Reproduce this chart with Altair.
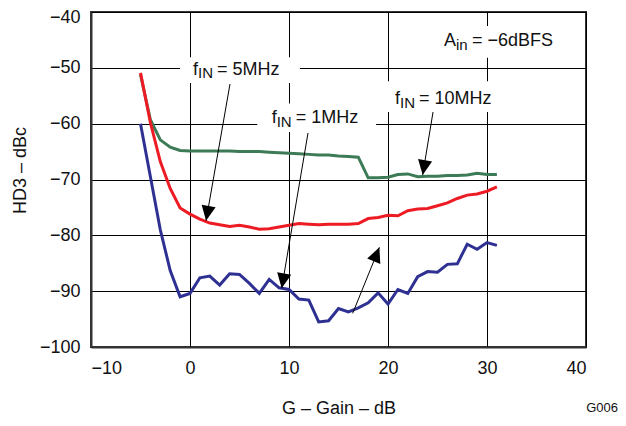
import math
import altair as alt
import pandas as pd

# ---------------- data ----------------
gain = list(range(-5, 32))

hd3_1mhz = [-60.0, -69.5, -79.0, -86.3, -91.0, -90.4, -87.6, -87.3, -88.9, -86.9,
            -87.0, -88.6, -90.4, -87.9, -89.4, -89.7, -91.4, -91.6, -95.5, -95.3,
            -93.1, -93.7, -93.0, -92.1, -90.3, -92.3, -89.7, -90.4, -87.4, -86.5,
            -86.6, -85.2, -85.1, -81.6, -82.5, -81.3, -81.8]

hd3_5mhz = [-50.9, -59.8, -66.8, -71.6, -75.1, -76.2, -77.1, -77.8, -78.1, -78.4,
            -78.2, -78.5, -78.9, -78.8, -78.5, -78.2, -77.9, -78.0, -78.1, -78.0,
            -78.0, -78.0, -77.9, -77.0, -76.8, -76.4, -76.5, -75.6, -75.3, -75.2,
            -74.7, -74.2, -73.4, -72.8, -72.6, -72.1, -71.3]

hd3_10mhz = [-51.2, -59.3, -62.9, -64.2, -64.8, -64.9, -64.9, -64.9, -64.9, -64.9,
             -65.0, -65.0, -65.0, -65.1, -65.2, -65.3, -65.4, -65.5, -65.6, -65.6,
             -65.8, -65.9, -66.0, -69.7, -69.7, -69.6, -69.1, -69.0, -69.5, -69.4,
             -69.4, -69.3, -69.3, -69.2, -68.9, -69.1, -69.1]

series_names = ["10MHz", "5MHz", "1MHz"]
series_colors = ["#3d7a56", "#ed1c24", "#2e3192"]

# annotation labels  (f_IN = ...)
lab_x = [0.30, 8.25, 20.71]
lab_y = [-51.28, -59.97, -56.48]
lab_rest = ["= 5MHz", "= 1MHz", "= 10MHz"]
amp_x = [25.66]
amp_y = [-46.09]

# white boxes behind labels
box_x1 = [-1.0, 6.8, 19.2, 24.9]
box_x2 = [11.1, 18.8, 31.9, 37.9]
box_y1 = [-48.1, -56.4, -52.4, -42.5]
box_y2 = [-52.7, -61.5, -57.9, -48.2]

# arrows: start -> tip
arr_x1 = [4.04, 11.92, 24.55, 16.43]
arr_y1 = [-52.9, -61.67, -57.91, -93.97]
arr_x2 = [1.62, 9.26, 23.5, 19.13]
arr_y2 = [-77.4, -89.49, -69.2, -82.15]

W, H = 495, 335
XDOM = [-10, 40]
YDOM = [-100, -40]
FONT = "Liberation Sans"

# ---------------- frames ----------------
rows = []
for name, vals in zip(series_names, [hd3_10mhz, hd3_5mhz, hd3_1mhz]):
    for g, v in zip(gain, vals):
        rows.append({"gain": g, "hd3": v, "series": name})
df = pd.DataFrame(rows)

sx = W / (XDOM[1] - XDOM[0])
sy = H / (YDOM[1] - YDOM[0])
angles = []
for a, b, c, d in zip(arr_x1, arr_y1, arr_x2, arr_y2):
    dxp = (c - a) * sx
    dyp = -(d - b) * sy
    angles.append(math.degrees(math.atan2(dxp, -dyp)) % 360)
arr_df = pd.DataFrame({"x1": arr_x1, "y1": arr_y1, "x2": arr_x2, "y2": arr_y2, "angle": angles})
box_df = pd.DataFrame({"x1": box_x1, "x2": box_x2, "y1": box_y1, "y2": box_y2})
lab_df = pd.DataFrame({"x": lab_x, "y": lab_y, "rest": lab_rest})
amp_df = pd.DataFrame({"x": amp_x, "y": amp_y})

xs = alt.Scale(domain=XDOM, nice=False, zero=False)
ys = alt.Scale(domain=YDOM, nice=False, zero=False)

base = alt.Chart(df)

lines = base.mark_line(strokeWidth=3, clip=True).encode(
    x=alt.X("gain:Q", scale=xs,
            axis=alt.Axis(values=[-10, 0, 10, 20, 30, 40], title="G – Gain – dB",
                          titleBaseline="alphabetic", titleY=66)),
    y=alt.Y("hd3:Q", scale=ys,
            axis=alt.Axis(values=[-100, -90, -80, -70, -60, -50, -40], title="HD3 – dBc",
                          titleBaseline="alphabetic", titleX=-66, titleY=158, titleAngle=270,
                          labelOffset=alt.condition("datum.value == -40", alt.value(5), alt.value(0)))),
    color=alt.Color("series:N", scale=alt.Scale(domain=series_names, range=series_colors), legend=None),
    order=alt.Order("gain:Q"),
)

boxes = alt.Chart(box_df).mark_rect(fill="white", stroke=None).encode(
    x=alt.X("x1:Q", scale=xs), x2="x2:Q", y=alt.Y("y1:Q", scale=ys), y2="y2:Q")

arrows = alt.Chart(arr_df).mark_rule(color="black", strokeWidth=1).encode(
    x=alt.X("x1:Q", scale=xs), y=alt.Y("y1:Q", scale=ys), x2="x2:Q", y2="y2:Q")

heads = alt.Chart(arr_df).mark_point(
    shape="M0,0L-0.78,1.65L0.78,1.65Z", filled=True, size=330, color="black",
    opacity=1, strokeWidth=0).encode(
    x=alt.X("x2:Q", scale=xs), y=alt.Y("y2:Q", scale=ys),
    angle=alt.Angle("angle:Q", scale=None))

def txt(data, field_or_text, dx, dy, size, align="left"):
    if field_or_text.startswith("@"):
        m = alt.Chart(data).mark_text(align=align, baseline="alphabetic", dx=dx, dy=dy,
                                      fontSize=size, font=FONT, color="#111")
        return m.encode(x=alt.X("x:Q", scale=xs), y=alt.Y("y:Q", scale=ys),
                        text=alt.Text(field_or_text[1:] + ":N"))
    m = alt.Chart(data).mark_text(align=align, baseline="alphabetic", dx=dx, dy=dy,
                                  fontSize=size, font=FONT, color="#111", text=field_or_text)
    return m.encode(x=alt.X("x:Q", scale=xs), y=alt.Y("y:Q", scale=ys))

t_f = txt(lab_df, "f", 0, 0, 18)
t_in = txt(lab_df, "IN", 5, 3.5, 15)
t_rest = txt(lab_df, "@rest", 24, 0, 18)
t_a = txt(amp_df, "A", 0, 0, 18)
t_ain = txt(amp_df, "in", 12, 3.5, 15)
t_arest = txt(amp_df, "= −6dBFS", 28, 0, 18)

footer = alt.Chart(amp_df).mark_text(align="right", baseline="alphabetic", fontSize=13,
                                     font=FONT, color="#111", text="G006").encode(
    x=alt.value(527), y=alt.value(400))

chart = alt.layer(boxes, lines, arrows, heads, t_f, t_in, t_rest, t_a, t_ain, t_arest, footer).properties(
    width=W, height=H,
    autosize=alt.AutoSizeParams(type="none"),
    padding={"left": 83, "top": 4, "right": 32, "bottom": 71},
).configure_view(
    stroke="#333333", strokeWidth=2
).configure_axis(
    grid=True, gridColor="black", gridWidth=1, gridOpacity=1,
    domain=True, domainColor="#333333", domainWidth=2,
    ticks=False, tickSize=0,
    labelFont=FONT, labelFontSize=18, labelColor="#111",
    titleFont=FONT, titleFontSize=18, titleColor="#111", titleFontWeight="normal",
    labelPadding=11,
).configure_axisX(labelPadding=12)

chart.save("out.html", embed_options={"renderer": "svg", "actions": False})
